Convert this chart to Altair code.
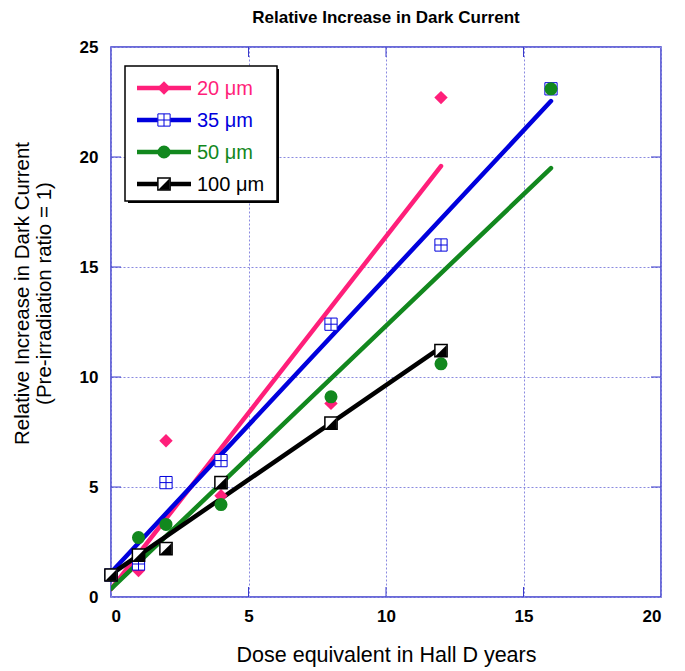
import altair as alt
import pandas as pd

# ---- data ----
series_names = ["20 μm", "35 μm", "50 μm", "100 μm"]
series_colors = ["#ff1f7a", "#0000dd", "#12881e", "#000000"]

dose_20 = [0, 1, 2, 4, 8, 12]
val_20 = [1.0, 1.2, 7.1, 4.6, 8.8, 22.7]

dose_35 = [0, 1, 2, 4, 8, 12, 16]
val_35 = [1.0, 1.5, 5.2, 6.2, 12.4, 16.0, 23.1]

dose_50 = [0, 1, 2, 4, 8, 12, 16]
val_50 = [1.0, 2.7, 3.3, 4.2, 9.1, 10.6, 23.1]

dose_100 = [0, 1, 2, 4, 8, 12]
val_100 = [1.0, 1.9, 2.2, 5.2, 7.9, 11.2]

x_ticks = [0, 5, 10, 15, 20]
y_ticks = [0, 5, 10, 15, 20, 25]
x_inner_ticks = [5, 10, 15]
y_inner_ticks = [5, 10, 15, 20]

rows = []
for name, xs, ys in zip(series_names,
                        [dose_20, dose_35, dose_50, dose_100],
                        [val_20, val_35, val_50, val_100]):
    for a, b in zip(xs, ys):
        rows.append({"series": name, "dose": a, "value": b})
df = pd.DataFrame(rows)

FONT = "Liberation Sans"
FRAME = "#3a3acc"
GRID = "#8a8ae0"
W, H = 550, 550

xscale = alt.Scale(domain=[0, 20], nice=False, zero=False)
yscale = alt.Scale(domain=[0, 25], nice=False, zero=False)

xaxis = alt.Axis(values=x_ticks, format="d", labelPadding=11,
                 title="Dose equivalent in Hall D years", titlePadding=20,
                 titleFontSize=21.5)
yaxis = alt.Axis(values=y_ticks, format="d", labelPadding=13,
                 title=["Relative Increase in Dark Current", "(Pre-irradiation ratio = 1)"],
                 titleLineHeight=22, titlePadding=25, titleY=246, titleFontSize=20.5)

base = alt.Chart(df)

# fitted lines (least-squares per series)
lines = base.transform_regression("dose", "value", groupby=["series"]).mark_line(
    strokeWidth=4.5, strokeCap="round", clip=True
).encode(
    x=alt.X("dose:Q", scale=xscale, axis=xaxis),
    y=alt.Y("value:Q", scale=yscale, axis=yaxis),
    stroke=alt.Stroke("series:N", scale=alt.Scale(domain=series_names, range=series_colors),
                      legend=None),
    detail="series:N",
)

def pts(name):
    return base.transform_filter(alt.datum.series == name)

enc = dict(x=alt.X("dose:Q", scale=xscale), y=alt.Y("value:Q", scale=yscale))

SQ_CROSS = "M-1,-1L1,-1L1,1L-1,1Z M0,-1L0,1 M-1,0L1,0"
TRI = "M1,-1L1,1L-1,1Z"

def marker_layers(name, chart, x_enc, y_enc):
    c = series_colors[series_names.index(name)]
    if name == "20 μm":
        return [chart.mark_point(shape="diamond", filled=True, size=180, color=c,
                                 opacity=1).encode(x=x_enc, y=y_enc)]
    if name == "35 μm":
        return [chart.mark_point(shape=SQ_CROSS, filled=False, fill="white", stroke=c,
                                 strokeWidth=1, size=150, opacity=1,
                                 fillOpacity=1).encode(x=x_enc, y=y_enc)]
    if name == "50 μm":
        return [chart.mark_point(shape="circle", filled=True, size=170, color=c,
                                 opacity=1).encode(x=x_enc, y=y_enc)]
    return [chart.mark_point(shape="square", filled=False, fill="white", stroke=c,
                             strokeWidth=1.5, size=150, opacity=1,
                             fillOpacity=1).encode(x=x_enc, y=y_enc),
            chart.mark_point(shape=TRI, filled=True, size=130, color=c,
                             opacity=1).encode(x=x_enc, y=y_enc)]

point_layers = []
for nm in series_names:
    point_layers += marker_layers(nm, pts(nm), enc["x"], enc["y"])

# inward ticks on all four sides
xt = pd.DataFrame({"v": x_inner_ticks})
yt = pd.DataFrame({"v": y_inner_ticks})
tick_b = alt.Chart(xt).mark_rule(color=FRAME, strokeWidth=1).encode(
    x=alt.X("v:Q", scale=xscale), y=alt.value(H), y2=alt.value(H - 10))
tick_t = alt.Chart(xt).mark_rule(color=FRAME, strokeWidth=1).encode(
    x=alt.X("v:Q", scale=xscale), y=alt.value(0), y2=alt.value(10))
tick_l = alt.Chart(yt).mark_rule(color=FRAME, strokeWidth=1).encode(
    y=alt.Y("v:Q", scale=yscale), x=alt.value(0), x2=alt.value(10))
tick_r = alt.Chart(yt).mark_rule(color=FRAME, strokeWidth=1).encode(
    y=alt.Y("v:Q", scale=yscale), x=alt.value(W), x2=alt.value(W - 10))

# legend box (drawn in the plot's pixel space, top-left corner)
one = pd.DataFrame({"k": [0]})
LX0, LX1, LY0, LY1 = 14, 166, 19, 154
shadow = alt.Chart(one).mark_rect(color="black").encode(
    x=alt.value(LX0 + 3), x2=alt.value(LX1 + 2), y=alt.value(LY0 + 3), y2=alt.value(LY1 + 2))
box = alt.Chart(one).mark_rect(fill="white", stroke="black", strokeWidth=1.5).encode(
    x=alt.value(LX0), x2=alt.value(LX1), y=alt.value(LY0), y2=alt.value(LY1))

legend_layers = [shadow, box]
for i, nm in enumerate(series_names):
    c = series_colors[i]
    yy = 41 + 32 * i
    row = alt.Chart(pd.DataFrame({"series": [nm]}))
    legend_layers.append(row.mark_rule(color=c, strokeWidth=4.5).encode(
        x=alt.value(26), x2=alt.value(80), y=alt.value(yy)))
    if nm in ("35 μm", "100 μm"):
        # white patch so the line does not run through the open square
        legend_layers.append(row.mark_point(shape="square", filled=True, color="white",
                                            size=150, opacity=1).encode(
            x=alt.value(53), y=alt.value(yy)))
    legend_layers += marker_layers(nm, row, alt.value(53), alt.value(yy))
    legend_layers.append(row.mark_text(align="left", baseline="middle", font=FONT,
                                       fontSize=20, color=c).encode(
        x=alt.value(86), y=alt.value(yy + 1), text="series:N"))

chart = alt.layer(
    lines, tick_b, tick_t, tick_l, tick_r, *point_layers, *legend_layers
).properties(
    width=W, height=H,
    background="white",
    title=alt.TitleParams("Relative Increase in Dark Current", font=FONT, fontSize=17,
                          fontWeight="bold", color="black", anchor="middle", offset=11),
    autosize=alt.AutoSizeParams(type="none"),
    padding={"left": 111, "top": 47, "right": 24, "bottom": 74},
).configure_view(
    stroke=FRAME, strokeWidth=1.5
).configure_axis(
    grid=True, gridColor=GRID, gridDash=[2, 2], gridWidth=1, tickSize=0, domain=False,
    labelFont=FONT, labelFontSize=17, labelFontWeight="bold", labelColor="black",
    titleFont=FONT, titleFontWeight="normal", titleColor="black",
)

chart.save("out.html", embed_options={"renderer": "svg", "actions": False})
